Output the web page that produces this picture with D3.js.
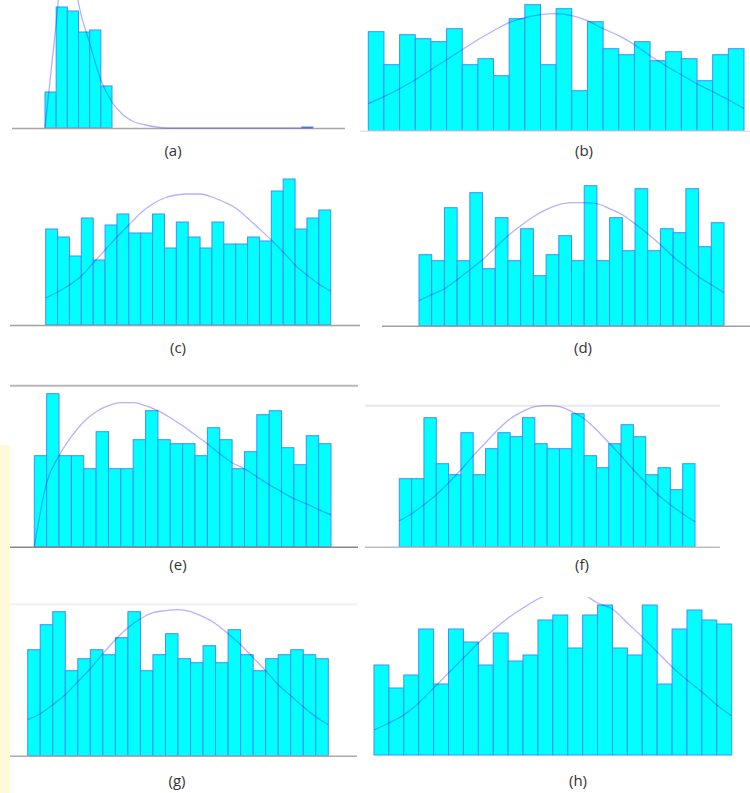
<!DOCTYPE html>
<html>
<head>
<meta charset="utf-8">
<script src="https://cdn.jsdelivr.net/npm/d3@7"></script>
<style>
  body { margin: 0; background: #fff; }
  svg { display: block; }
</style>
</head>
<body>
<div id="chart"></div>
<script>
// Histogram counts (24 bins per panel) and fitted density curves (25 bin edges)
const labels = ["(a)", "(b)", "(c)", "(d)", "(e)", "(f)", "(g)", "(h)"];

const countsA = [36, 121, 117, 96, 98, 42, 0, 0, 0, 0, 0, 0, 0, 0, 0, 0, 0, 0, 0, 0, 0, 0, 0, 1];
const curveA = [0, 105, 210, 125, 85, 48, 26, 13, 6, 3, 1, 0, 0, 0, 0, 0, 0, 0, 0, 0, 0, 0, 0, 0, 0];

const countsB = [99, 66, 96, 92, 89, 102, 66, 72, 55, 112, 126, 66, 122, 40, 109, 82, 76, 89, 70, 79, 72, 50, 76, 82];
const curveB = [27, 34, 42, 51, 61, 71, 81, 91, 100, 108, 113, 116, 117, 115, 110, 102, 95, 86, 75, 65, 56, 47, 39, 31, 22];

const countsC = [96, 88, 69, 107, 65, 100, 111, 92, 92, 111, 77, 103, 88, 77, 103, 81, 81, 88, 84, 134, 146, 96, 107, 115];
const curveC = [27, 33, 40, 49, 62, 75, 88, 100, 112, 121, 127, 130, 131, 131, 128, 123, 117, 107, 96, 85, 73, 60, 50, 41, 34];

const countsD = [71, 65, 118, 65, 133, 57, 108, 65, 97, 50, 71, 90, 65, 140, 65, 108, 75, 137, 75, 97, 93, 137, 79, 103];
const curveD = [25, 31, 37, 46, 56, 66, 78, 90, 100, 109, 116, 121, 123, 123, 122, 117, 111, 102, 92, 81, 69, 59, 49, 41, 33];

const countsE = [91, 153, 91, 91, 78, 115, 78, 78, 107, 136, 107, 103, 103, 91, 119, 107, 78, 95, 132, 136, 99, 82, 111, 103];
const curveE = [0, 64, 91, 110, 125, 135, 141, 144, 144, 141, 136, 129, 121, 112, 103, 93, 84, 78, 70, 62, 55, 48, 43, 37, 32];

const countsF = [68, 68, 129, 83, 72, 114, 72, 98, 114, 110, 129, 103, 98, 98, 133, 91, 79, 103, 122, 110, 72, 79, 57, 83];
const curveF = [26, 33, 42, 52, 64, 77, 91, 104, 117, 128, 135, 140, 141, 140, 135, 128, 117, 104, 91, 77, 64, 52, 42, 33, 25];

const countsG = [106, 131, 144, 85, 97, 106, 101, 118, 144, 85, 101, 122, 97, 93, 110, 93, 126, 101, 85, 97, 101, 106, 101, 97];
const curveG = [36, 42, 51, 61, 74, 87, 102, 116, 128, 137, 143, 145, 146, 144, 139, 132, 122, 111, 98, 85, 71, 60, 49, 39, 31];

const countsH = [90, 67, 80, 126, 71, 126, 113, 90, 122, 94, 100, 135, 140, 107, 140, 150, 107, 100, 150, 71, 126, 145, 135, 131];
const curveH = [25, 32, 40, 52, 67, 82, 97, 112, 125, 137, 147, 156, 162, 164, 161, 152, 146, 132, 118, 103, 88, 75, 63, 50, 39];

// Panel layout (page pixels)
const panels = [
  { counts: countsA, curve: curveA, x0: 45, x1: 313, base: 128, clipTop: 0,
    axis: [12, 345], axisColor: "#a8a8a8", lab: [173, 152] },
  { counts: countsB, curve: curveB, x0: 368.3, x1: 744, base: 130.7, clipTop: 0,
    axis: [360, 750], axisColor: "#e4e4e4", lab: [584, 152] },
  { counts: countsC, curve: curveC, x0: 45.7, x1: 330.7, base: 325, clipTop: 170,
    axis: [10, 360], axisColor: "#a0a0a0", lab: [178, 349] },
  { counts: countsD, curve: curveD, x0: 419, x1: 724, base: 325.7, clipTop: 170,
    axis: [382, 750], axisColor: "#a0a0a0", lab: [583, 349] },
  { counts: countsE, curve: curveE, x0: 34.3, x1: 331, base: 546.7, clipTop: 386,
    axis: [10, 358], axisColor: "#8a8a8a", grid: 385.7, gridColor: "#b8b8b8", lab: [178, 566] },
  { counts: countsF, curve: curveF, x0: 399.3, x1: 695, base: 546.7, clipTop: 400,
    axis: [365, 720], axisColor: "#bdbdbd", grid: 405.7, gridColor: "#e8e8e8", lab: [582, 566] },
  { counts: countsG, curve: curveG, x0: 27.7, x1: 328.3, base: 755.7, clipTop: 598,
    axis: [10, 357], axisColor: "#ababab", grid: 604.3, gridColor: "#f0f0f0", lab: [177, 782] },
  { counts: countsH, curve: curveH, x0: 374, x1: 731.7, base: 755, clipTop: 597,
    axis: null, lab: [578, 782] },
];

const W = 750, H = 793;

const svg = d3.select("#chart").append("svg")
  .attr("width", W)
  .attr("height", H)
  .attr("viewBox", [0, 0, W, H]);

// faint watermark strip on the left edge
svg.append("rect")
  .attr("x", 0).attr("y", 445).attr("width", 10).attr("height", H - 445)
  .attr("fill", "#fefad8");

const defs = svg.append("defs");

panels.forEach((p, i) => {
  const n = p.counts.length;
  const x = d3.scaleLinear().domain([0, n]).range([p.x0, p.x1]);
  const y = d3.scaleLinear().domain([0, 100]).range([p.base, p.base - 100]);

  const g = svg.append("g");

  if (p.grid != null) {
    g.append("line")
      .attr("x1", p.axis[0]).attr("x2", p.axis[1])
      .attr("y1", p.grid).attr("y2", p.grid)
      .attr("stroke", p.gridColor).attr("stroke-width", 2);
  }

  const bins = p.counts.map((v, k) => ({ k, v })).filter((d) => d.v > 0);

  g.selectAll("rect.bar")
    .data(bins)
    .join("rect")
    .attr("class", "bar")
    .attr("x", (d) => x(d.k))
    .attr("y", (d) => y(d.v))
    .attr("width", (d) => x(d.k + 1) - x(d.k))
    .attr("height", (d) => y(0) - y(d.v))
    .attr("fill", "#00ffff")
    .attr("stroke", "#3f8ff7")
    .attr("stroke-width", 1);

  if (p.axis) {
    g.append("line")
      .attr("x1", p.axis[0]).attr("x2", p.axis[1])
      .attr("y1", p.base + 0.5).attr("y2", p.base + 0.5)
      .attr("stroke", p.axisColor).attr("stroke-width", 1.5);
  }

  // fitted curve, clipped to the panel frame
  const clipId = "clip-" + i;
  defs.append("clipPath").attr("id", clipId)
    .append("rect")
    .attr("x", p.x0 - 5).attr("y", p.clipTop)
    .attr("width", p.x1 - p.x0 + 10).attr("height", p.base - p.clipTop + 2);

  const line = d3.line()
    .x((d, k) => x(k))
    .y((d) => y(d))
    .curve(d3.curveMonotoneX);

  g.append("path")
    .datum(p.curve)
    .attr("clip-path", `url(#${clipId})`)
    .attr("d", line)
    .attr("fill", "none")
    .attr("stroke", "rgba(20, 20, 255, 0.33)")
    .attr("stroke-width", 1.3);

  svg.append("text")
    .attr("x", p.lab[0])
    .attr("y", p.lab[1])
    .attr("text-anchor", "middle")
    .attr("dominant-baseline", "middle")
    .style("font-family", "'Open Sans', 'Noto Sans', sans-serif")
    .style("font-size", "15px")
    .style("fill", "#333")
    .text(labels[i]);
});
</script>
</body>
</html>
